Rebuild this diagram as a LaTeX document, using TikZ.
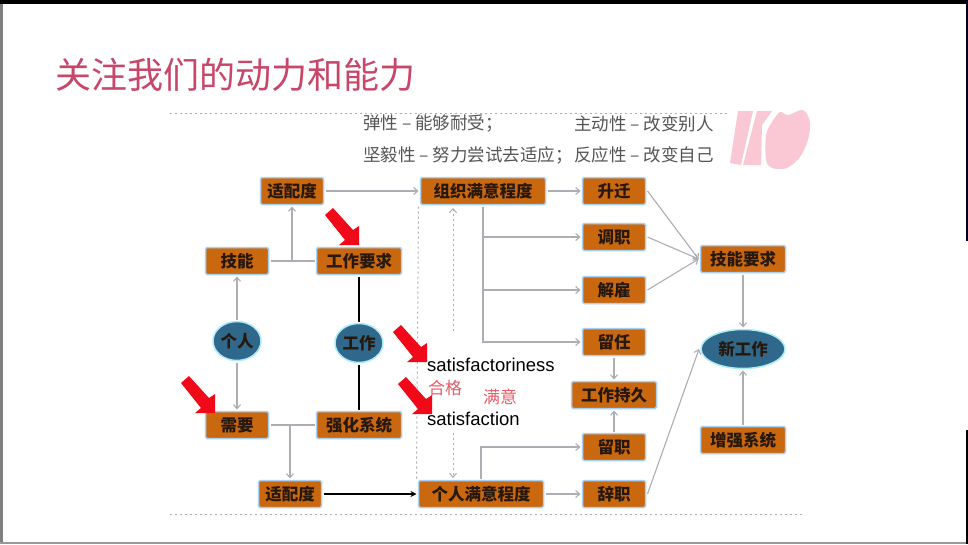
\documentclass[tikz,border=0pt]{standalone}
\usepackage{fontspec}
\setmainfont{Liberation Sans}
\newfontfamily\cjk{Noto Sans CJK SC}
\usetikzlibrary{arrows.meta,shapes.geometric}
\definecolor{boxfill}{RGB}{201,104,14}
\definecolor{boxglow}{RGB}{168,208,245}
\definecolor{ellfill}{RGB}{48,104,140}
\definecolor{ellglow}{RGB}{170,235,245}
\definecolor{inktext}{RGB}{38,24,12}
\definecolor{arcgray}{RGB}{172,174,180}
\definecolor{hintred}{RGB}{240,10,25}
\definecolor{softred}{RGB}{232,92,104}
\definecolor{titlered}{RGB}{200,70,105}
\definecolor{notegray}{RGB}{85,85,85}
\definecolor{logopink}{RGB}{250,200,212}
\tikzset{
    boxs/.style={rectangle, rounded corners=1.5pt, draw=boxglow, line width=1.5pt, fill=boxfill, text=inktext,
        minimum width=63pt, minimum height=27pt, inner sep=0pt, outer sep=2pt,
        font=\cjk\bfseries\fontsize{16.5}{16.5}\selectfont},
    boxm/.style={boxs, minimum width=85pt},
    boxl/.style={boxs, minimum width=125pt},
    ell/.style={ellipse, draw=ellglow, line width=1.5pt, fill=ellfill, text=inktext, inner sep=0pt, outer sep=2pt,
        minimum width=48pt, minimum height=39pt, font=\cjk\bfseries\fontsize{16.5}{16.5}\selectfont},
    arco/.style={draw=arcgray, line width=1.1pt},
    freccia/.style={arco, -{Straight Barb[length=4pt,width=7pt]}},
    nero/.style={draw=black, line width=1.4pt},
    punti/.style={draw=arcgray, line width=1pt, dash pattern=on 2pt off 3pt},
    nota/.style={text=notegray, anchor=west, inner sep=0pt, font=\cjk\fontsize{17.5}{17.5}\selectfont},
    latino/.style={text=black, anchor=west, inner sep=0pt, font=\fontsize{18.5}{19}\selectfont},
    rosso/.style={text=softred, anchor=west, inner sep=0pt, font=\cjk\fontsize{17}{17}\selectfont},
    hint/.pic={\fill[hintred] (0,0) -- (0,-19) -- (-6,-15) -- (-26,-37) -- (-34,-30) -- (-14,-5) -- (-20,0) -- cycle;}
}
\begin{document}
\begin{tikzpicture}[x=1pt, y=-1pt]
    \useasboundingbox (0,0) rectangle (968,544);
    % Frame
    \fill[white] (0,0) rectangle (968,544);
    \fill[black] (0,0) rectangle (968,4);
    \fill[gray] (0,4) rectangle (3,544);
    \fill[gray!80] (0,542) rectangle (968,544);
    \fill[black!85!blue] (966,0) rectangle (968,241);
    \fill[black] (966,430) rectangle (968,544);

    % Title and rules
    \node[text=titlered, anchor=west, inner sep=0pt, font=\cjk\fontsize{36}{36}\selectfont] (title) at (55,75) {关注我们的动力和能力};
    \draw[punti] (170,113) -- (728,113);
    \draw[punti] (170,514) -- (803,514);

    % Logo
    \fill[logopink] (738,111) -- (753,111) -- (741,165) -- (730,163) -- cycle;
    \fill[logopink] (757,111) -- (772,111) -- (762,125) -- (761,165) -- (743,165) -- cycle;
    \fill[logopink] plot[smooth cycle] coordinates {(780,112) (788,115) (803,110) (810,122) (808,140) (800,157) (787,168)
        (772,168) (766,160) (766,135) (772,122)};

    % Notes
    \node[nota] (n1) at (363,124) {弹性 – 能够耐受；};
    \node[nota] (n2) at (363,155) {坚毅性 – 努力尝试去适应；};
    \node[nota] (n3) at (574,124) {主动性 – 改变别人};
    \node[nota] (n4) at (574,155) {反应性 – 改变自己};

    % Left nodes
    \node[boxs] (fitA) at (292,191) {适配度};
    \node[boxs] (skill) at (237,261) {技能};
    \node[boxm] (jobreq) at (359,261) {工作要求};
    \node[ell] (person) at (237,341) {个人};
    \node[ell] (job) at (359,343) {工作};
    \node[boxs] (need) at (237,425) {需要};
    \node[boxm] (reinf) at (359,425) {强化系统};
    \node[boxs] (fitB) at (290,494) {适配度};

    % Middle nodes
    \node[boxl] (orgsat) at (483,191) {组织满意程度};
    \node[boxl] (persat) at (481,494) {个人满意程度};
    \node[boxs] (promo) at (614,191) {升迁};
    \node[boxs] (transfer) at (614,237) {调职};
    \node[boxs] (fire) at (614,290) {解雇};
    \node[boxs] (retain) at (614,342) {留任};
    \node[boxm] (tenure) at (614,395) {工作持久};
    \node[boxs] (stay) at (614,447) {留职};
    \node[boxs] (quit) at (614,494) {辞职};

    % Right nodes
    \node[boxm] (newreq) at (743,259) {技能要求};
    \node[ell, minimum width=84pt] (newjob) at (743,349) {新工作};
    \node[boxm] (boost) at (743,440) {增强系统};

    % Junctions
    \coordinate (jA) at (292,261);
    \coordinate (jB) at (290,425);
    \coordinate (dA) at (453,208);
    \coordinate (dB) at (453,331);
    \coordinate (dC) at (453,433);
    \coordinate (dD) at (453,478);

    % Edges
    \draw[freccia] (person) -- (skill);
    \draw[freccia] (person) -- (need);
    \draw[arco] (skill) -- (jobreq);
    \draw[freccia] (jA) -- (fitA);
    \draw[arco] (need) -- (reinf);
    \draw[freccia] (jB) -- (fitB);
    \draw[nero] (jobreq) -- (job);
    \draw[nero] (job) -- (reinf);
    \draw[freccia] (fitA) -- (orgsat);
    \draw[nero, -{Stealth[length=6pt,width=6pt]}] (fitB) -- (persat);
    \draw[freccia] (orgsat) -- (promo);
    \draw[freccia] (orgsat.south) |- (transfer);
    \draw[freccia] (orgsat.south) |- (fire);
    \draw[freccia] (orgsat.south) |- (retain);
    \draw[freccia] (persat) -- (quit);
    \draw[freccia] (persat.north) |- (stay);
    \draw[freccia] (retain) -- (tenure);
    \draw[freccia] (stay) -- (tenure);
    \draw[freccia] (promo.east) -- (newreq.west);
    \draw[freccia] (transfer.east) -- (newreq.west);
    \draw[freccia] (fire.east) -- (newreq.west);
    \draw[freccia] (quit.east) -- (newjob.west);
    \draw[freccia] (newreq) -- (newjob);
    \draw[freccia] (boost) -- (newjob);
    \draw[punti] (orgsat.south west) -- (persat.north west);
    \draw[punti, -{Straight Barb[length=4pt,width=7pt]}] (dB) -- (dA);
    \draw[punti, -{Straight Barb[length=4pt,width=7pt]}] (dC) -- (dD);

    % Labels
    \node[latino] (satA) at (427,365) {satisfactoriness};
    \node[latino] (satB) at (427,419) {satisfaction};
    \node[rosso] (ok) at (428,388) {合格};
    \node[rosso] (glad) at (483,397) {满意};

    % Red arrows
    \pic at (359,245) {hint};
    \pic at (215,413) {hint};
    \pic at (427,362) {hint};
    \pic at (432,414) {hint};
\end{tikzpicture}
\end{document}
